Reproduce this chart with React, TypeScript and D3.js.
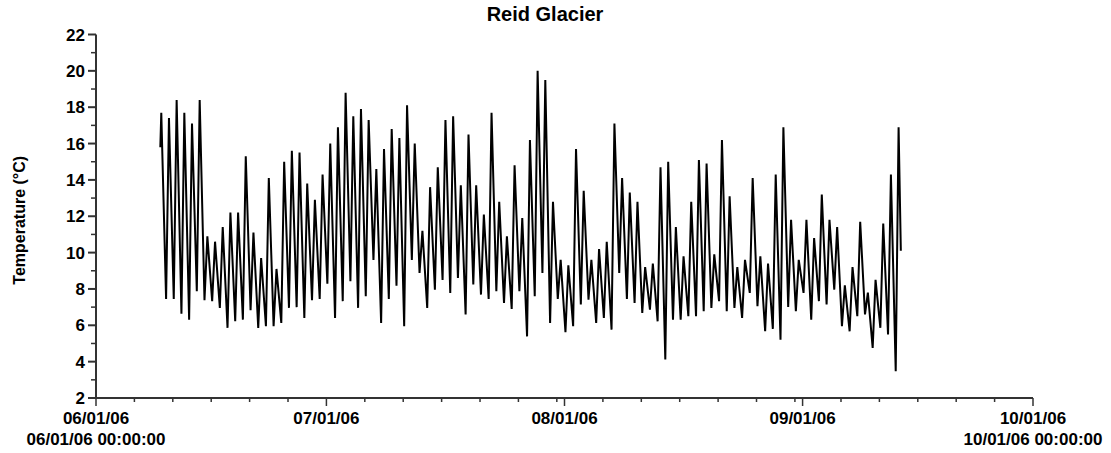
import * as d3 from 'd3';

const title = 'Reid Glacier';
const yLabel = 'Temperature (°C)';
const yMajorTicks = [2, 4, 6, 8, 10, 12, 14, 16, 18, 20, 22];
const yMinorTicks = [3, 5, 7, 9, 11, 13, 15, 17, 19, 21];
const monthStarts = [
  new Date(2006, 5, 1),
  new Date(2006, 6, 1),
  new Date(2006, 7, 1),
  new Date(2006, 8, 1),
  new Date(2006, 9, 1),
];
const monthLabels = ['06/01/06', '07/01/06', '08/01/06', '09/01/06', '10/01/06'];
const edgeLabels = ['06/01/06 00:00:00', '10/01/06 00:00:00'];

// logger record, read as one afternoon high and one night low per day from 9 June
const firstDay = new Date(2006, 5, 9);
const startValue = 15.8;
const endValue = 10.1;
const dailyMax = [
  17.7, 17.4, 18.4, 17.7, 17.1, 18.4, 10.9, 10.6, 11.4, 12.2, 12.2, 15.3, 11.1, 9.7, 14.1, 9.1,
  15.0, 15.6, 15.5, 13.8, 12.9, 14.3, 16.0, 16.9, 18.8, 17.5, 17.9, 17.3, 14.6, 15.7, 16.8, 16.3,
  18.1, 16.0, 11.2, 13.6, 14.7, 17.3, 17.5, 13.7, 16.5, 13.7, 12.1, 17.7, 12.8, 10.9, 14.8, 11.9,
  16.2, 20.0, 19.5, 12.8, 9.6, 9.3, 15.7, 13.4, 9.6, 10.2, 10.6, 17.1, 14.1, 13.3, 12.8, 9.2,
  9.4, 14.7, 15.0, 11.4, 9.8, 12.8, 15.1, 14.9, 9.9, 16.2, 13.1, 9.2, 9.6, 14.1, 9.8, 9.4,
  14.3, 16.9, 11.8, 9.6, 11.8, 10.8, 13.2, 11.8, 11.4, 8.2, 9.2, 11.7, 7.8, 8.5, 11.6, 14.3, 16.9,
];
const nightMin = [
  7.45, 7.45, 6.64, 6.31, 7.87, 7.38, 7.33, 6.96, 5.86, 6.22, 6.31, 6.83, 5.86, 5.95, 5.95, 6.13,
  6.96, 7.0, 6.4, 7.38, 7.45, 8.29, 6.4, 7.33, 8.42, 6.96, 7.6, 9.6, 6.13, 7.45, 8.18, 5.95,
  9.6, 8.88, 6.96, 7.96, 8.5, 7.78, 8.6, 6.6, 8.24, 7.69, 7.45, 7.87, 7.23, 6.9, 7.87, 5.39,
  7.6, 8.88, 6.13, 7.45, 5.62, 5.95, 7.14, 7.41, 6.13, 6.4, 5.76, 8.88, 7.45, 7.23, 6.68, 6.86,
  6.22, 4.12, 6.31, 6.31, 6.5, 6.5, 6.77, 6.96, 7.33, 6.77, 6.96, 6.4, 7.78, 7.05, 5.67, 5.8,
  5.21, 7.01, 6.77, 7.78, 6.31, 7.33, 7.14, 7.96, 5.95, 5.67, 6.5, 6.6, 4.76, 5.86, 5.49, 3.47,
];

interface Pt {
  t: Date;
  v: number;
}

const font = '"Liberation Sans", Arial, sans-serif';

export default function App() {
  const width = 1111;
  const height = 453;

  const x = d3
    .scaleTime()
    .domain([monthStarts[0], monthStarts[monthStarts.length - 1]])
    .range([96, 1033]);
  const y = d3.scaleLinear().domain([2, 22]).range([398, 34.5]);

  const points: Pt[] = [{ t: d3.timeHour.offset(firstDay, 9), v: startValue }];
  dailyMax.forEach((v, i) => {
    const day = d3.timeDay.offset(firstDay, i);
    points.push({ t: d3.timeHour.offset(day, 12), v });
    if (i < nightMin.length) points.push({ t: d3.timeHour.offset(day, 27), v: nightMin[i] });
    else points.push({ t: d3.timeHour.offset(day, 19), v: endValue });
  });

  const line = d3
    .line<Pt>()
    .x((d) => x(d.t))
    .y((d) => y(d.v));

  const minorX = d3
    .timeDays(monthStarts[0], monthStarts[monthStarts.length - 1])
    .filter((d) => d.getDate() !== 1 && (d.getDate() - 1) % 5 === 0);

  const x0 = x.range()[0];
  const x1 = x.range()[1];
  const yb = y(2);
  const yt = y(22);
  const axisColor = '#333';

  return (
    <svg
      width={width}
      height={height}
      style={{ position: 'absolute', left: 0, top: 0, background: '#fff' }}
      fontFamily={font}
      fontWeight="bold"
    >
      <text x={545} y={21} textAnchor="middle" fontSize={20} fill="#000">
        {title}
      </text>
      <text
        transform={`translate(25,${(yt + yb) / 2 + 4}) rotate(-90)`}
        textAnchor="middle"
        fontSize={16}
        fill="#000"
      >
        {yLabel}
      </text>

      <path d={line(points) ?? ''} fill="none" stroke="#000" strokeWidth={2} strokeLinejoin="bevel" />

      {/* y axis */}
      <line x1={x0} x2={x0} y1={yt} y2={yb} stroke={axisColor} strokeWidth={2} />
      {yMajorTicks.map((t) => (
        <g key={`ym${t}`}>
          <line x1={x0 - 8} x2={x0} y1={y(t)} y2={y(t)} stroke={axisColor} strokeWidth={2} />
          <text x={85} y={y(t)} dy="0.36em" textAnchor="end" fontSize={17} fill="#000">
            {t}
          </text>
        </g>
      ))}
      {yMinorTicks.map((t) => (
        <line key={`yn${t}`} x1={x0 - 5} x2={x0} y1={y(t)} y2={y(t)} stroke={axisColor} strokeWidth={1.5} />
      ))}

      {/* x axis */}
      <line x1={x0} x2={x1} y1={yb} y2={yb} stroke={axisColor} strokeWidth={2} />
      {minorX.map((d) => (
        <line key={`xn${+d}`} x1={x(d)} x2={x(d)} y1={yb} y2={yb + 4} stroke={axisColor} strokeWidth={1.5} />
      ))}
      {monthStarts.map((d, i) => (
        <g key={`xm${i}`}>
          <line x1={x(d)} x2={x(d)} y1={yb} y2={yb + 8} stroke={axisColor} strokeWidth={1.5} />
          <text x={x(d)} y={424} textAnchor="middle" fontSize={17} fill="#000">
            {monthLabels[i]}
          </text>
        </g>
      ))}
      <text x={x(monthStarts[0])} y={444.5} textAnchor="middle" fontSize={17} fill="#000">
        {edgeLabels[0]}
      </text>
      <text x={x(monthStarts[monthStarts.length - 1])} y={444.5} textAnchor="middle" fontSize={17} fill="#000">
        {edgeLabels[1]}
      </text>
    </svg>
  );
}
